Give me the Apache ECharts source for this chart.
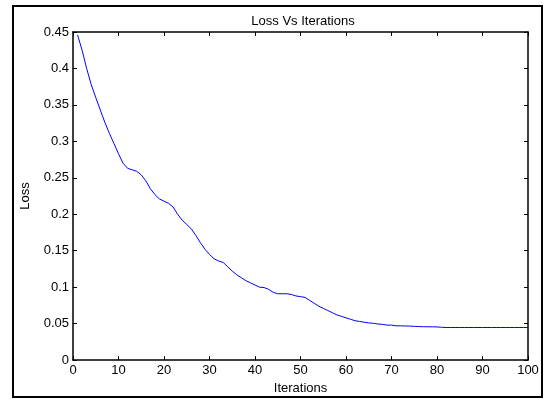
<!DOCTYPE html>
<html>
<head>
<meta charset="UTF-8">
<title>Loss Vs Iterations</title>
<script type="text/javascript" src="https://cdn.jsdelivr.net/npm/echarts@6/dist/echarts.min.js"></script>
<style>
	html,body{margin:0;padding:0;background:#fff;}
</style>
</head>
<body>
	<div id="main" style="width: 547px; height: 400px;"></div>
	<script type="text/javascript">
		// iteration numbers and loss
		var iterations = [];
		for (var i = 1; i <= 100; i++) iterations.push(i);
		var loss = [
			0.446, 0.425, 0.400, 0.378, 0.360, 0.343, 0.326, 0.311, 0.297, 0.283,
			0.270, 0.263, 0.261, 0.259, 0.254, 0.246, 0.235, 0.227, 0.221, 0.218,
			0.215, 0.210, 0.200, 0.192, 0.186, 0.180, 0.171, 0.161, 0.152, 0.145,
			0.139, 0.136, 0.134, 0.128, 0.122, 0.117, 0.113, 0.109, 0.106, 0.103,
			0.100, 0.0995, 0.097, 0.093, 0.091, 0.091, 0.091, 0.090, 0.088, 0.087,
			0.086, 0.082, 0.078, 0.074, 0.071, 0.068, 0.065, 0.062, 0.060, 0.058,
			0.056, 0.054, 0.053, 0.052, 0.051, 0.0505, 0.0495, 0.049, 0.048, 0.048,
			0.047, 0.047, 0.0468, 0.0466, 0.0463, 0.0460, 0.0458, 0.0457, 0.0456, 0.0455,
			0.0450, 0.0447, 0.0447, 0.0447, 0.0447, 0.0447, 0.0447, 0.0447, 0.0447, 0.0447,
			0.0447, 0.0447, 0.0447, 0.0447, 0.0447, 0.0447, 0.0447, 0.0447, 0.0447, 0.0447
		];

		var font = 'Liberation Sans, Arial, sans-serif';
		var boxAxis = {
			axisLine:{show:true, onZero:false, lineStyle:{color:'#000', width:1.5}},
			axisTick:{show:true, inside:true, length:4, lineStyle:{color:'#000'}},
			splitLine:{show:false}
		};

		var myChart = echarts.init(document.getElementById('main'));
		var option = {
			animation:false,
			backgroundColor:'#fff',
			title:{
				text:'Loss Vs Iterations',
				left:298,
				textAlign:'center',
				top:10,
				textStyle:{fontFamily:font, fontSize:13, fontWeight:'normal', color:'#000'}
			},
			grid:{left:73, right:19, top:32, bottom:39},
			graphic:[{
				type:'rect',
				shape:{x:13, y:6, width:529, height:391},
				style:{fill:null, stroke:'#000', lineWidth:2},
				silent:true
			}],
			xAxis:[
				echarts.util.merge({
					type:'value', min:0, max:100, interval:10, position:'bottom',
					name:'Iterations', nameLocation:'middle', nameGap:20,
					nameTextStyle:{fontFamily:font, fontSize:13, color:'#000'},
					axisLabel:{fontFamily:font, fontSize:13, color:'#000', margin:4}
				}, boxAxis, true),
				echarts.util.merge({
					type:'value', min:0, max:100, interval:10, position:'top',
					axisLabel:{show:false}
				}, boxAxis, true)
			],
			yAxis:[
				echarts.util.merge({
					type:'value', min:0, max:0.45, interval:0.05, position:'left',
					name:'Loss', nameLocation:'middle', nameGap:41,
					nameTextStyle:{fontFamily:font, fontSize:13, color:'#000'},
					axisLabel:{fontFamily:font, fontSize:13, color:'#000', margin:4}
				}, boxAxis, true),
				echarts.util.merge({
					type:'value', min:0, max:0.45, interval:0.05, position:'right',
					axisLabel:{show:false}
				}, boxAxis, true)
			],
			series:[{
				name:'Loss',
				type:'line',
				xAxisIndex:0,
				yAxisIndex:0,
				showSymbol:false,
				lineStyle:{color:'#0000ff', width:1},
				data:iterations.map(function(x, k){ return [x, loss[k]]; })
			}]
		};
		myChart.setOption(option);
	</script>
</body>
</html>
